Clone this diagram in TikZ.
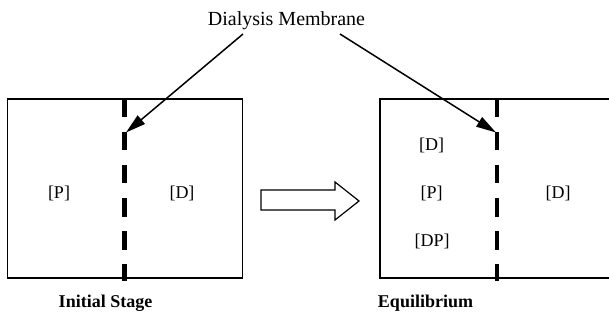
\documentclass[tikz,border=0pt]{standalone}
\usepackage{fontspec}
\setmainfont{Liberation Serif}
\usetikzlibrary{arrows.meta}
\begin{document}
\begin{tikzpicture}[x=1pt,y=-1pt,
  lbl/.style={font=\fontsize{18}{20}\selectfont, anchor=base, inner sep=0pt},
  titlelbl/.style={font=\fontsize{20}{22}\selectfont, anchor=base, inner sep=0pt},
  caption/.style={font=\fontsize{18}{20}\selectfont\bfseries, anchor=base, inner sep=0pt},
  boxline/.style={line width=1.2pt},
  membrane/.style={line width=4.5pt, dash pattern=on 18.5pt off 14.5pt},
  pointer/.style={line width=1.5pt, -{Triangle[length=20pt,width=11pt]}},
  hollow/.style={line width=1.2pt, fill=white, line join=miter}]
\useasboundingbox (0,0) rectangle (609,320);
\clip (0,0) rectangle (609,320);
% left box
\draw[boxline] (7.5,99) rectangle (242.5,278);
\draw[membrane] (124.5,99) -- (124.5,281);
% right box (open at right edge)
\draw[boxline] (612,99) -- (380,99) -- (380,278) -- (612,278);
\draw[membrane] (497,99) -- (497,281);
% texts
\node[titlelbl] (title) at (286.5,26) {Dialysis Membrane};
\node[lbl] (pL) at (59,198) {[P]};
\node[lbl] (dL) at (182,198) {[D]};
\node[lbl] (dR1) at (431.5,151) {[D]};
\node[lbl] (pR) at (431.5,198) {[P]};
\node[lbl] (dpR) at (432,246.5) {[DP]};
\node[lbl] (dR2) at (558,198) {[D]};
\node[caption] (init) at (105.5,307) {Initial Stage};
\node[caption] (equi) at (425.5,307) {Equilibrium};
% pointers
\coordinate (srcL) at (243,34);
\coordinate (srcR) at (340,34);
\coordinate (tipL) at (126,132.5);
\coordinate (tipR) at (496,132.5);
\draw[pointer] (srcL) -- (tipL);
\draw[pointer] (srcR) -- (tipR);
% hollow arrow
\draw[hollow] (261,190) -- (335,190) -- (335,182) -- (359,201) -- (335,220) -- (335,210) -- (261,210) -- cycle;
\end{tikzpicture}
\end{document}
